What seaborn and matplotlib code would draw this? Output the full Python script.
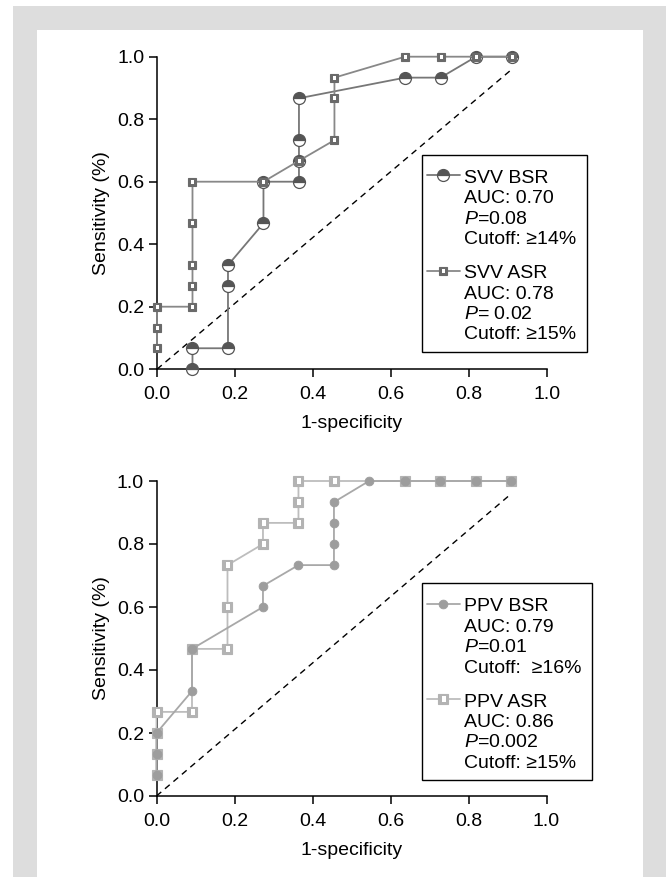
import numpy as np
import matplotlib
matplotlib.use("Agg")
import matplotlib.pyplot as plt
import seaborn as sns
from matplotlib.lines import Line2D
from matplotlib.path import Path
from matplotlib.patches import Rectangle
from matplotlib.legend_handler import HandlerLine2D, HandlerTuple

# ---------------- data ----------------
svv_bsr_x = [0.091, 0.091, 0.182, 0.182, 0.182, 0.273, 0.273, 0.364, 0.364, 0.364, 0.364, 0.636, 0.727, 0.818, 0.909]
svv_bsr_y = [0.0, 0.067, 0.067, 0.267, 0.333, 0.467, 0.6, 0.6, 0.667, 0.733, 0.867, 0.933, 0.933, 1.0, 1.0]
svv_asr_x = [0.0, 0.0, 0.0, 0.091, 0.091, 0.091, 0.091, 0.091, 0.273, 0.364, 0.455, 0.455, 0.455, 0.636, 0.727, 0.818, 0.909]
svv_asr_y = [0.067, 0.133, 0.2, 0.2, 0.267, 0.333, 0.467, 0.6, 0.6, 0.667, 0.733, 0.867, 0.933, 1.0, 1.0, 1.0, 1.0]
ppv_bsr_x = [0.0, 0.0, 0.0, 0.091, 0.091, 0.273, 0.273, 0.364, 0.455, 0.455, 0.455, 0.455, 0.545, 0.636, 0.727, 0.818, 0.909]
ppv_bsr_y = [0.067, 0.133, 0.2, 0.333, 0.467, 0.6, 0.667, 0.733, 0.733, 0.8, 0.867, 0.933, 1.0, 1.0, 1.0, 1.0, 1.0]
ppv_asr_x = [0.0, 0.0, 0.0, 0.0, 0.091, 0.091, 0.182, 0.182, 0.182, 0.273, 0.273, 0.364, 0.364, 0.364, 0.455, 0.636, 0.727, 0.818, 0.909]
ppv_asr_y = [0.067, 0.133, 0.2, 0.267, 0.267, 0.467, 0.467, 0.6, 0.733, 0.8, 0.867, 0.867, 0.933, 1.0, 1.0, 1.0, 1.0, 1.0, 1.0]
diag_x = [0.0, 0.91]
diag_y = [0.0, 0.96]

ticks = [0.0, 0.2, 0.4, 0.6, 0.8, 1.0]
tick_labels = ["0.0", "0.2", "0.4", "0.6", "0.8", "1.0"]
x_label = "1-specificity"
y_label = "Sensitivity (%)"

svv_labels = ["SVV BSR\nAUC: 0.70\n$\\it{P}$=0.08\nCutoff: \u226514%",
              "SVV ASR\nAUC: 0.78\n$\\it{P}$= 0.02\nCutoff: \u226515%"]
ppv_labels = ["PPV BSR\nAUC: 0.79\n$\\it{P}$=0.01\nCutoff:  \u226516%",
              "PPV ASR\nAUC: 0.86\n$\\it{P}$=0.002\nCutoff: \u226515%"]

# ---------------- style ----------------
sns.set_theme(style="ticks")
plt.rcParams["font.family"] = ["Liberation Sans", "DejaVu Sans"]
plt.rcParams.update({
    "mathtext.fontset": "custom",
    "mathtext.rm": "Liberation Sans",
    "mathtext.it": "Liberation Sans:italic",
    "mathtext.bf": "Liberation Sans:bold",
    "axes.edgecolor": "black",
    "axes.labelcolor": "black",
    "xtick.color": "black",
    "ytick.color": "black",
    "text.color": "black",
})
FS = 14
LS = 1.26
TOP_PAD = 0.5      # extra padding of legend frame (fraction of font size)
BOTTOM_PAD = 0.15
RIGHT_PAD = 0.3

C_SVV_BSR_M, C_SVV_BSR_L = "#555555", "#777777"
C_SVV_ASR_M, C_SVV_ASR_L = "#6a6a6a", "#888888"
C_PPV_BSR_M, C_PPV_BSR_L = "#9d9d9d", "#a8a8a8"
C_PPV_ASR_M, C_PPV_ASR_L = "#b3b3b3", "#bdbdbd"

# white inner bar of the square markers (path in units of the marker size)
inner_path = Path(
    [(-0.5, -0.5), (0.5, 0.5), (-0.06, -0.27), (0.27, -0.27), (0.27, 0.27), (-0.06, 0.27), (-0.06, -0.27)],
    [Path.MOVETO, Path.MOVETO, Path.MOVETO, Path.LINETO, Path.LINETO, Path.LINETO, Path.CLOSEPOLY],
)

fig = plt.figure(figsize=(6.69, 8.77), dpi=100)
W, H = 669.0, 877.0
fig.add_artist(Rectangle((13 / W, 0), (666 - 13) / W, (H - 6) / H, transform=fig.transFigure,
                         facecolor="#dddddd", edgecolor="none", zorder=-10))
fig.add_artist(Rectangle((37 / W, 0), (643 - 37) / W, (H - 30) / H, transform=fig.transFigure,
                         facecolor="white", edgecolor="none", zorder=-9))

ax1 = fig.add_axes([157 / W, 1 - 369.2 / H, 390 / W, 312.5 / H])
ax2 = fig.add_axes([156.5 / W, 1 - 796 / H, 390 / W, 315 / H])

# measure line pitch of multiline legend text
renderer = fig.canvas.get_renderer()
t1 = fig.text(0, 0, "Ag", fontsize=FS, linespacing=LS)
t2 = fig.text(0, 0, "Ag\nAg", fontsize=FS, linespacing=LS)
pitch_pt = (t2.get_window_extent(renderer).height - t1.get_window_extent(renderer).height) * 72.0 / fig.dpi
t1.remove()
t2.remove()


class TopLineHandler(HandlerLine2D):
    """Place the legend handle on the first line of a multi-line label."""

    def __init__(self, shift_pt, **kw):
        super().__init__(**kw)
        self.shift_pt = shift_pt

    def create_artists(self, legend, orig_handle, xdescent, ydescent, width, height, fontsize, trans):
        arts = super().create_artists(legend, orig_handle, xdescent, ydescent, width, height, fontsize, trans)
        for a in arts:
            a.set_ydata(np.asarray(a.get_ydata(), float) + self.shift_pt)
        return arts


def vpad_box(x0, y0, width, height, mutation_size):
    """Square frame with extra padding at top, bottom and right."""
    top = y0 + height + TOP_PAD * mutation_size
    bot = y0 - BOTTOM_PAD * mutation_size
    right = x0 + width + RIGHT_PAD * mutation_size
    return Path([(x0, bot), (right, bot), (right, top), (x0, top), (x0, bot)], closed=True)


def style_axes(ax):
    ax.set_xlim(0, 1)
    ax.set_ylim(0, 1)
    ax.set_xticks(ticks)
    ax.set_xticklabels(tick_labels)
    ax.set_yticks(ticks)
    ax.set_yticklabels(tick_labels)
    ax.set_facecolor("none")
    sns.despine(ax=ax)
    for s in ["left", "bottom"]:
        ax.spines[s].set_linewidth(1.1)
    ax.tick_params(direction="out", length=6, width=1.1, labelsize=FS)
    ax.tick_params(axis="x", pad=6)
    ax.tick_params(axis="y", pad=3)
    ax.set_xlabel(x_label, fontsize=FS, labelpad=9)
    ax.set_ylabel(y_label, fontsize=FS, labelpad=5)
    sns.lineplot(x=diag_x, y=diag_y, ax=ax, color="black", linewidth=1.0,
                 linestyle=(0, (4.5, 3.5)), zorder=2)


def draw_square_series(ax, x, y, mcol, lcol, ms, z):
    sns.lineplot(x=x, y=y, ax=ax, sort=False, estimator=None, color=lcol, linewidth=1.3,
                 marker="s", markersize=ms, markerfacecolor=mcol, markeredgecolor=mcol,
                 markeredgewidth=0.8, clip_on=False, zorder=z)
    sns.lineplot(x=x, y=y, ax=ax, sort=False, estimator=None, linestyle="none",
                 marker=inner_path, markersize=ms, markerfacecolor="white",
                 markeredgecolor="none", markeredgewidth=0, clip_on=False, zorder=z + 0.1)


def square_handle(mcol, lcol, ms):
    h1 = Line2D([], [], color=lcol, linewidth=1.3, marker="s", markersize=ms,
                markerfacecolor=mcol, markeredgecolor=mcol, markeredgewidth=0.8)
    h2 = Line2D([], [], linestyle="none", marker=inner_path, markersize=ms,
                markerfacecolor="white", markeredgecolor="none", markeredgewidth=0)
    return (h1, h2)


def add_legend(ax, handles, labels, anchor):
    leg = ax.legend(handles, labels, loc="upper left", bbox_to_anchor=anchor,
                    bbox_transform=ax.transAxes, borderaxespad=0, fontsize=FS,
                    handlelength=1.68, handletextpad=0.2, borderpad=0.27, labelspacing=0.88,
                    frameon=True, fancybox=False, edgecolor="black", facecolor="white",
                    framealpha=1, shadow=False,
                    handler_map={Line2D: TopLineHandler(1.5 * pitch_pt + 2.0),
                                 tuple: HandlerTuple(ndivide=1)})
    leg.get_frame().set_boxstyle(vpad_box)
    leg.get_frame().set_linewidth(1.0)
    for t in leg.get_texts():
        t.set_linespacing(LS)
    return leg


# ---------------- top panel: SVV ----------------
style_axes(ax1)
sns.lineplot(x=svv_bsr_x, y=svv_bsr_y, ax=ax1, sort=False, estimator=None, color=C_SVV_BSR_L,
             linewidth=1.3, marker="o", markersize=8.6, fillstyle="top",
             markerfacecolor=C_SVV_BSR_M, markerfacecoloralt="white",
             markeredgecolor=C_SVV_BSR_M, markeredgewidth=0.9, clip_on=False, zorder=3)
draw_square_series(ax1, svv_asr_x, svv_asr_y, C_SVV_ASR_M, C_SVV_ASR_L, 6.2, 4)

h_svv_bsr = Line2D([], [], color=C_SVV_BSR_L, linewidth=1.3, marker="o", markersize=8.6,
                   fillstyle="top", markerfacecolor=C_SVV_BSR_M, markerfacecoloralt="white",
                   markeredgecolor=C_SVV_BSR_M, markeredgewidth=0.9)
add_legend(ax1, [h_svv_bsr, square_handle(C_SVV_ASR_M, C_SVV_ASR_L, 6.2)], svv_labels, (0.679, 0.654))

# ---------------- bottom panel: PPV ----------------
style_axes(ax2)
draw_square_series(ax2, ppv_asr_x, ppv_asr_y, C_PPV_ASR_M, C_PPV_ASR_L, 6.7, 3)
sns.lineplot(x=ppv_bsr_x, y=ppv_bsr_y, ax=ax2, sort=False, estimator=None, color=C_PPV_BSR_L,
             linewidth=1.3, marker="o", markersize=6.3, markerfacecolor=C_PPV_BSR_M,
             markeredgecolor=C_PPV_BSR_M, markeredgewidth=0.6, clip_on=False, zorder=4)

h_ppv_bsr = Line2D([], [], color=C_PPV_BSR_L, linewidth=1.3, marker="o", markersize=6.3,
                   markerfacecolor=C_PPV_BSR_M, markeredgecolor=C_PPV_BSR_M, markeredgewidth=0.6)
add_legend(ax2, [h_ppv_bsr, square_handle(C_PPV_ASR_M, C_PPV_ASR_L, 6.7)], ppv_labels, (0.68, 0.644))

fig.savefig("out.png", dpi=100)
